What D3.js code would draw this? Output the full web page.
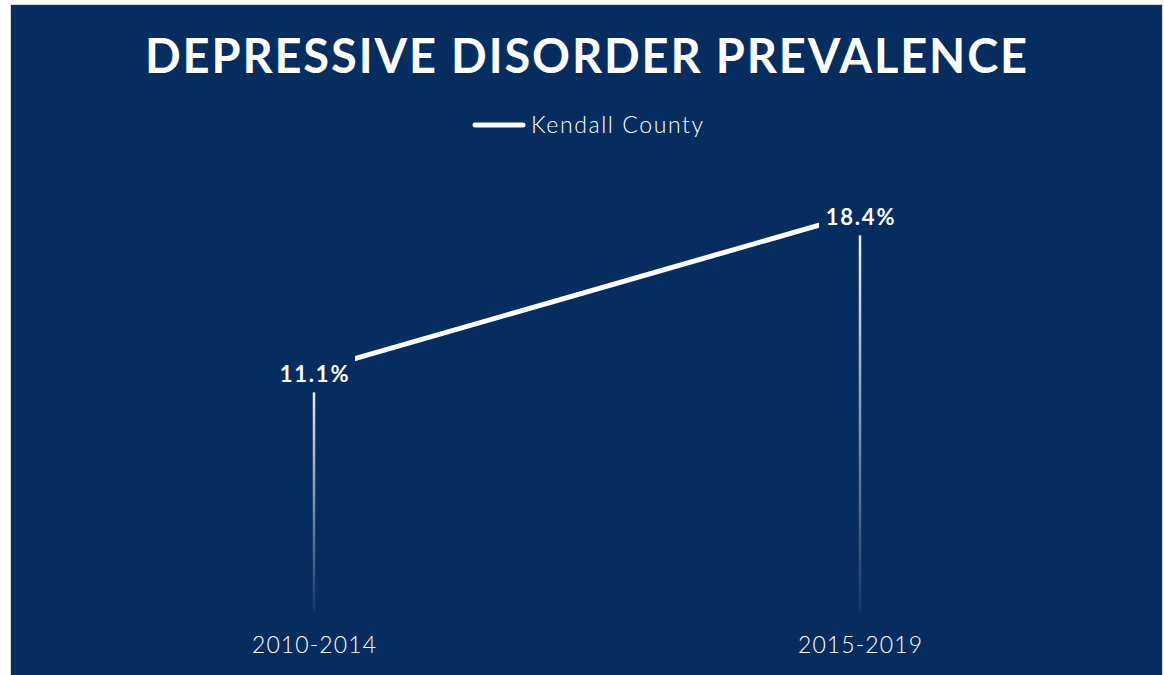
<!DOCTYPE html>
<html><head><meta charset="utf-8">
<script src="https://cdn.jsdelivr.net/npm/d3@7"></script>
<style>
html,body{margin:0;padding:0;background:#ffffff;}
svg{display:block;}
</style></head>
<body>
<svg id="chart" width="1164" height="675"></svg>
<script>
const title = "DEPRESSIVE DISORDER PREVALENCE";
const seriesName = "Kendall County";
const categories = ["2010-2014", "2015-2019"];
const values = [11.1, 18.4];
const labels = ["11.1%", "18.4%"];

const W = 1164, H = 675;
const bg = "#052d5f";
const font = "Lato, 'Open Sans', sans-serif";
const svg = d3.select("#chart");

// frame
svg.append("rect").attr("x", 10.5).attr("y", 4.5).attr("width", 1152).attr("height", 672)
  .attr("fill", bg).attr("stroke", "#d9d9d9").attr("stroke-width", 1);

const x = d3.scalePoint().domain(categories).range([314, 860]);
const y = d3.scaleLinear().domain([0, 20]).range([609, 179]);

// gradient for drop lines
const defs = svg.append("defs");
const grad = defs.append("linearGradient").attr("id", "dropGrad")
  .attr("x1", 0).attr("y1", 0).attr("x2", 0).attr("y2", 1);
grad.append("stop").attr("offset", "0%").attr("stop-color", "#ffffff").attr("stop-opacity", 1);
grad.append("stop").attr("offset", "100%").attr("stop-color", "#ffffff").attr("stop-opacity", 0.05);

// title
svg.append("text").attr("x", 587).attr("y", 73).attr("text-anchor", "middle")
  .attr("fill", "#fff").attr("font-family", font).attr("font-weight", 700)
  .attr("font-size", 47).attr("letter-spacing", 1.85).text(title);

// legend
svg.append("line").attr("x1", 475).attr("x2", 523).attr("y1", 125).attr("y2", 125)
  .attr("stroke", "#fff").attr("stroke-width", 5).attr("stroke-linecap", "round");
svg.append("text").attr("x", 531).attr("y", 133).attr("fill", "#fff")
  .attr("font-family", font).attr("font-weight", 300).attr("font-size", 23)
  .attr("letter-spacing", 1.6).text(seriesName);

const data = categories.map((c, i) => ({c, v: values[i], l: labels[i]}));

// drop lines
svg.selectAll("rect.drop").data(data).join("rect").attr("class", "drop")
  .attr("x", d => x(d.c) - 1.25).attr("width", 2.5)
  .attr("y", d => y(d.v)).attr("height", d => y(0) + 3 - y(d.v))
  .attr("fill", "url(#dropGrad)");

// line
svg.append("path").datum(data)
  .attr("d", d3.line().x(d => x(d.c)).y(d => y(d.v)))
  .attr("fill", "none").attr("stroke", "#fff").attr("stroke-width", 5);

// label boxes
svg.selectAll("rect.lb").data(data).join("rect").attr("class", "lb")
  .attr("x", d => x(d.c) - 41).attr("width", 82)
  .attr("y", d => y(d.v) - 18).attr("height", 40).attr("fill", bg);
svg.selectAll("text.lbl").data(data).join("text").attr("class", "lbl")
  .attr("x", d => x(d.c) + 1).attr("y", d => y(d.v) + 12).attr("text-anchor", "middle")
  .attr("fill", "#fff").attr("font-family", font).attr("font-weight", 700)
  .attr("font-size", 22).attr("letter-spacing", 1.8).text(d => d.l);

// x axis labels
const ax = svg.append("g").attr("transform", `translate(0,${y(0)})`)
  .call(d3.axisBottom(x).tickSize(0).tickPadding(28));
ax.select(".domain").remove();
ax.selectAll("text").attr("fill", "#fff").attr("font-family", font)
  .attr("font-weight", 300).attr("font-size", 23).attr("letter-spacing", 1.1);
</script>
</body></html>
